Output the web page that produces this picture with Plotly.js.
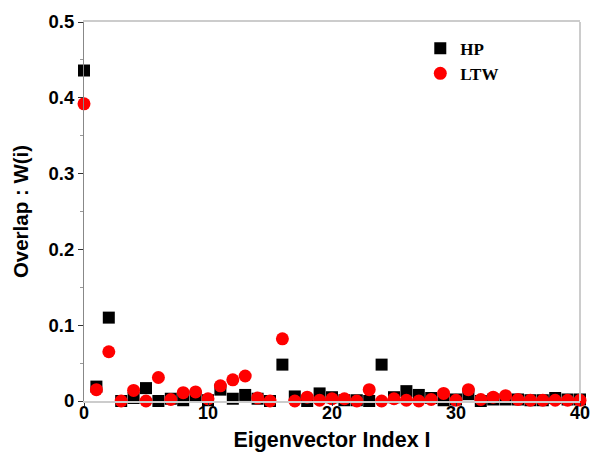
<!DOCTYPE html>
<html>
<head>
<meta charset="utf-8">
<script src="https://cdn.plot.ly/plotly-3.0.1.min.js"></script>
<style>html,body{margin:0;padding:0;background:#fff;}#chart{width:592px;height:454px;}</style>
</head>
<body>
<div id="chart"></div>
<script>
const indices = [0,1,2,3,4,5,6,7,8,9,10,11,12,13,14,15,16,17,18,19,20,21,22,23,24,25,26,27,28,29,30,31,32,33,34,35,36,37,38,39,40];
const hpValues = [0.436,0.019,0.110,0.000,0.004,0.017,0.000,0.003,0.001,0.006,0.001,0.015,0.003,0.008,0.003,0.000,0.048,0.006,0.000,0.010,0.005,0.001,0.001,0.000,0.048,0.005,0.013,0.008,0.004,0.001,0.002,0.009,0.000,0.002,0.002,0.002,0.001,0.001,0.004,0.002,0.002];
const ltwValues = [0.392,0.015,0.065,0.000,0.014,0.000,0.031,0.002,0.011,0.012,0.003,0.020,0.028,0.033,0.004,0.000,0.082,0.000,0.005,0.001,0.003,0.003,0.000,0.015,0.000,0.003,0.001,0.000,0.002,0.010,0.001,0.015,0.002,0.005,0.007,0.002,0.001,0.001,0.001,0.001,0.001];
const seriesNames = ['HP','LTW'];
const xTicks = [0,10,20,30,40];
const yTicks = [0,0.1,0.2,0.3,0.4,0.5];
const yTickText = ['0','0.1','0.2','0.3','0.4','0.5'];

const traces = [
  {x: indices, y: hpValues, name: seriesNames[0], type: 'scatter', mode: 'markers', cliponaxis: false,
   marker: {symbol: 'square', size: 12, color: '#000000'}},
  {x: indices, y: ltwValues, name: seriesNames[1], type: 'scatter', mode: 'markers', cliponaxis: false,
   marker: {symbol: 'circle', size: 13, color: '#ff0000'}}
];

const layout = {
  width: 592, height: 454,
  margin: {l: 84, r: 12, t: 22, b: 53},
  paper_bgcolor: '#ffffff', plot_bgcolor: '#ffffff',
  font: {family: 'Liberation Sans, Arial, sans-serif', color: '#000000'},
  showlegend: true,
  legend: {x: 0.678, y: 0.977, xanchor: 'left', yanchor: 'top', bgcolor: 'rgba(0,0,0,0)',
    font: {family: 'Liberation Serif, Times New Roman, serif', size: 17, color: '#000', weight: 'bold'},
    tracegroupgap: 0, itemwidth: 30},
  xaxis: {
    range: [0, 40], tickvals: xTicks, ticktext: xTicks.map(String),
    showgrid: false, zeroline: false, showline: true, linecolor: '#cccccc', linewidth: 2, mirror: true,
    ticks: 'outside', ticklen: 3, tickcolor: '#333', tickwidth: 1,
    ticklabelstandoff: -9,
    tickfont: {size: 18, weight: 'bold'},
    title: {text: 'Eigenvector Index I', font: {size: 21.5, weight: 'bold'}, standoff: 10}
  },
  yaxis: {
    range: [0, 0.5], tickvals: yTicks, ticktext: yTickText,
    showgrid: false, zeroline: false, showline: true, linecolor: '#888888', linewidth: 1,
    ticks: 'outside', ticklen: 5, tickcolor: '#333', tickwidth: 1,
    minor: {dtick: 0.05, ticks: 'outside', ticklen: 3, tickcolor: '#999'},
    tickfont: {size: 18.5, weight: 'bold'},
    title: {text: 'Overlap : W(i)', font: {size: 20.5, weight: 'bold'}, standoff: 14}
  },
  shapes: [
    {type: 'line', xref: 'paper', yref: 'paper', x0: 1, x1: 1, y0: 0, y1: 1, line: {color: '#cccccc', width: 2}}
  ]
};
Plotly.newPlot('chart', traces, layout, {staticPlot: true, displayModeBar: false});
</script>
</body>
</html>
